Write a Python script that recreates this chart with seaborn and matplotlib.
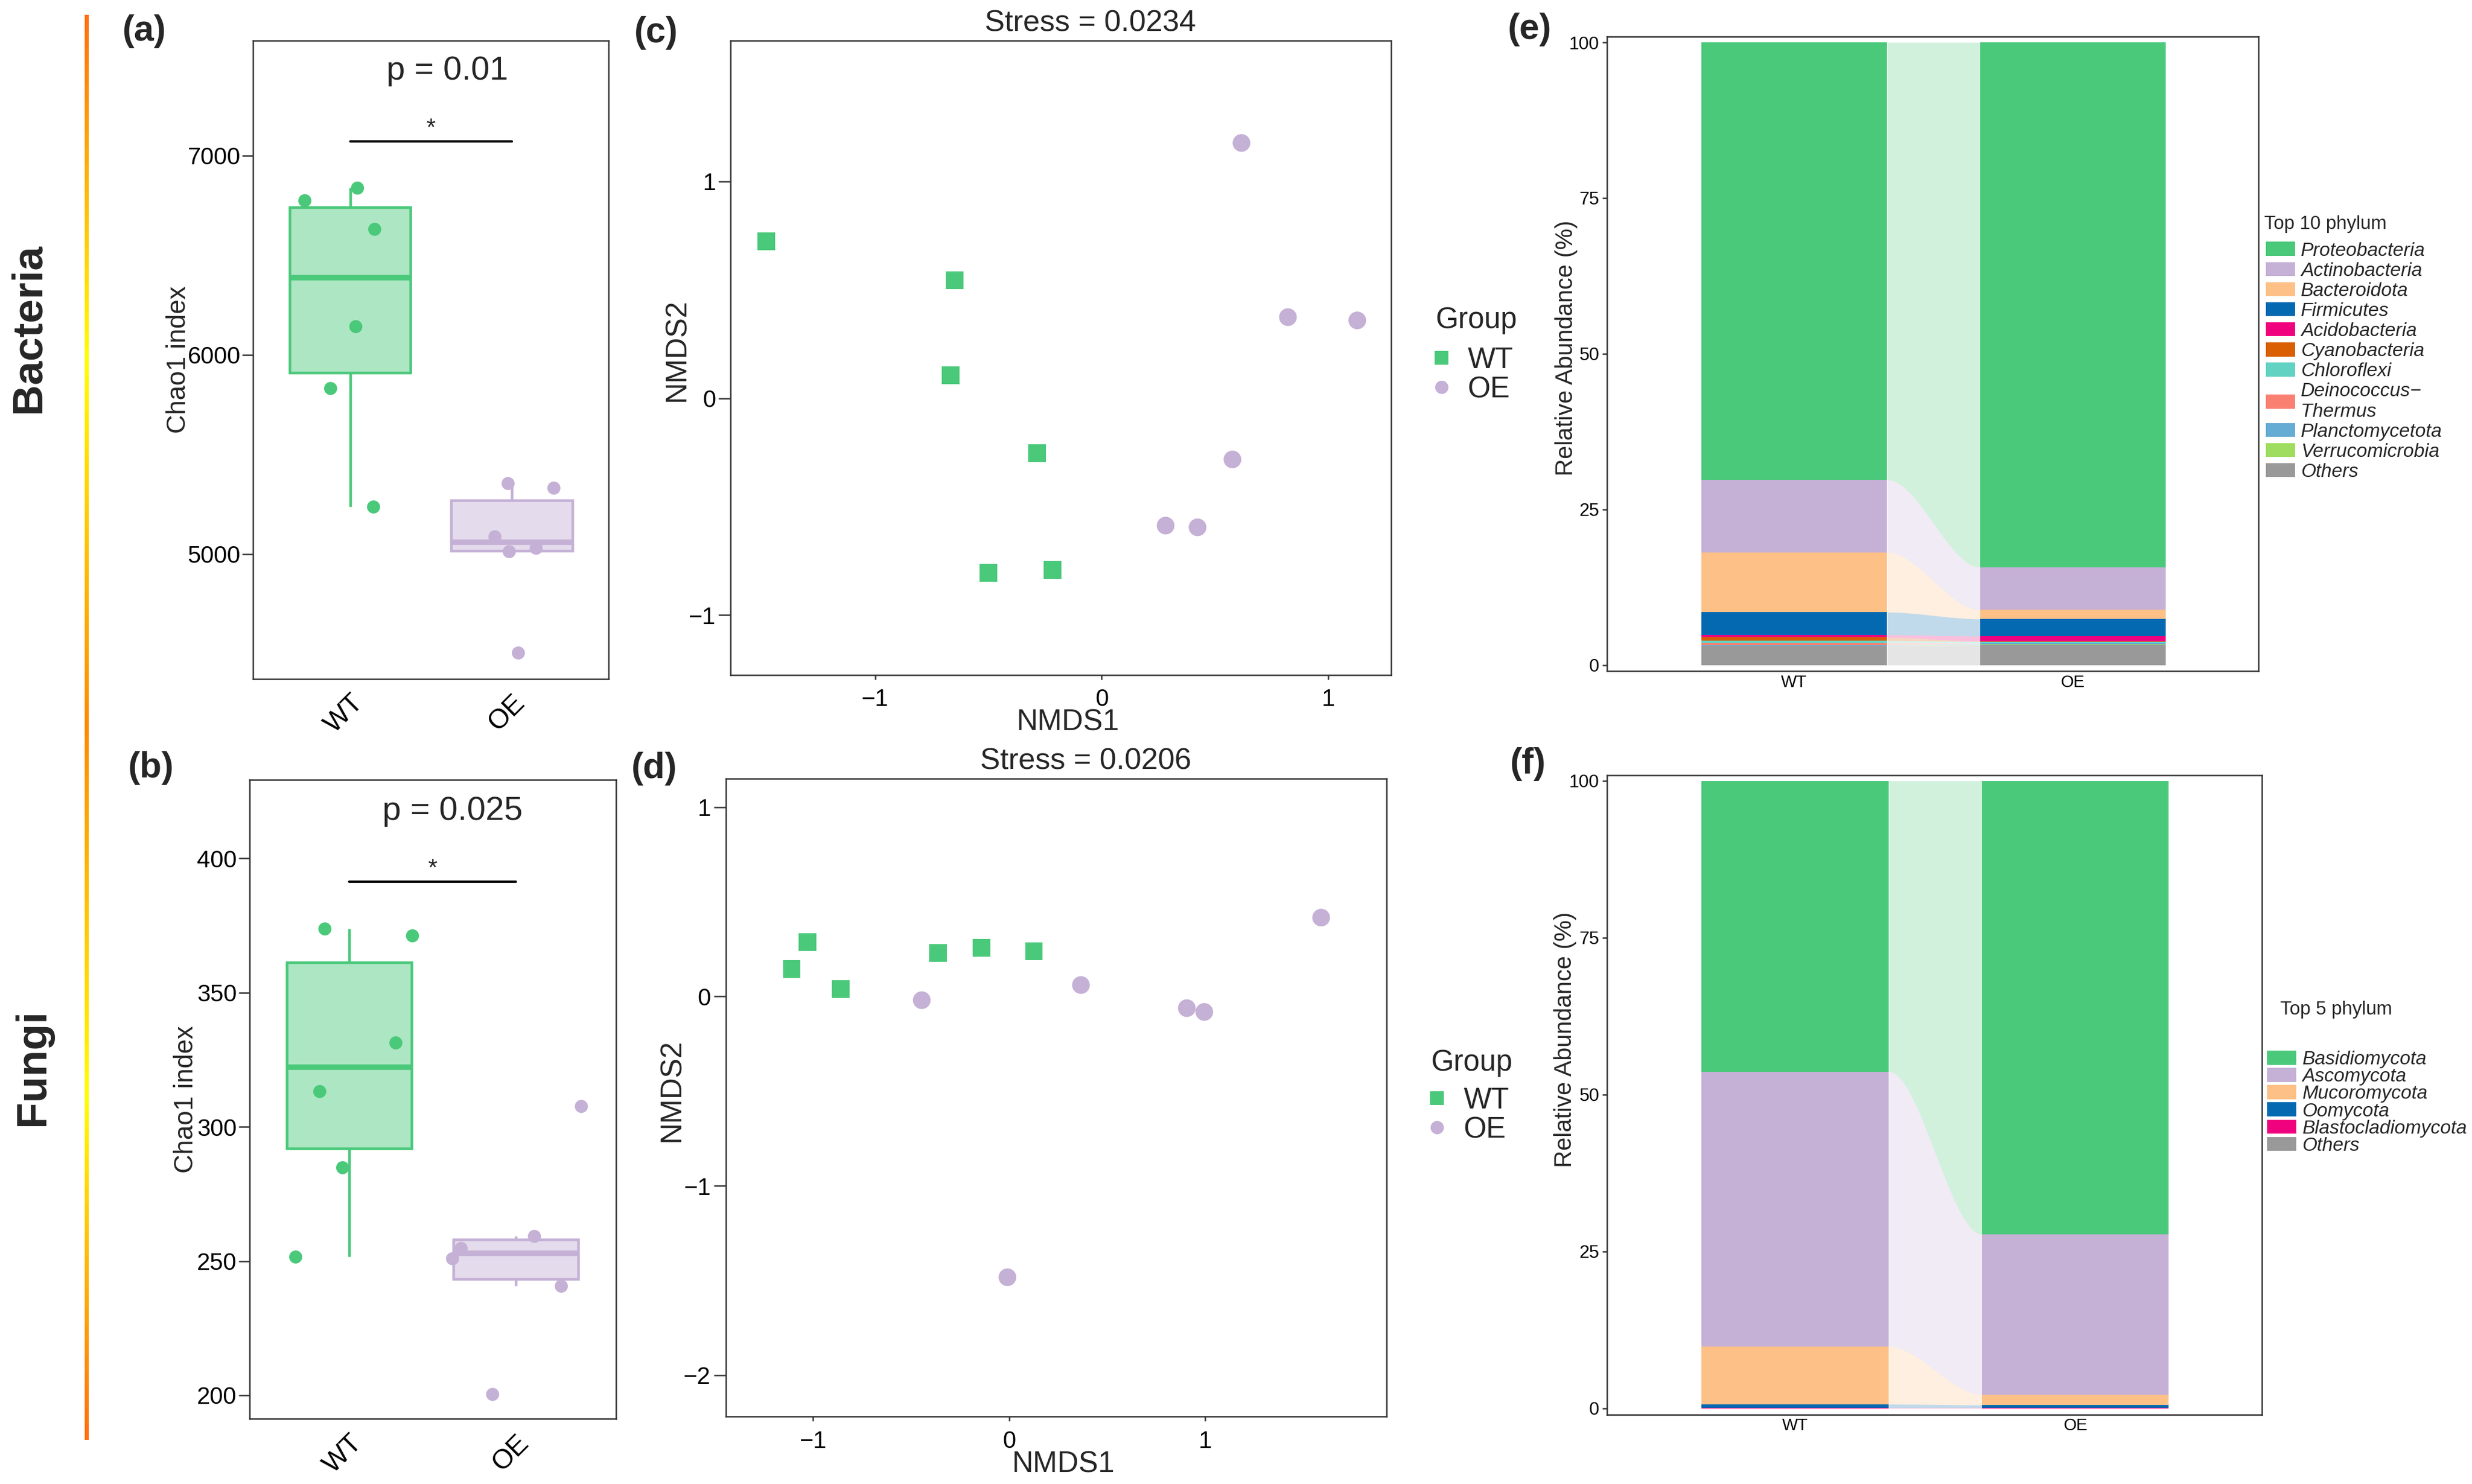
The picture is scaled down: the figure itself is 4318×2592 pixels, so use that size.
import numpy as np
import pandas as pd
import seaborn as sns
import matplotlib
matplotlib.use('Agg')
from matplotlib import pyplot as plt
from matplotlib.patches import Patch
from matplotlib.colors import LinearSegmentedColormap, to_rgba

#data
groups = ['WT', 'OE']

#(a) bacteria chao1
chao_bac_wt = [6776, 6838, 6633, 6142, 5832, 5238]
chao_bac_oe = [5355, 5331, 5088, 5012, 5029, 4504]
jit_bac_wt = [-0.28, 0.046, 0.152, 0.034, -0.124, 0.142]
jit_bac_oe = [-0.023, 0.26, -0.105, -0.018, 0.148, 0.041]

#(b) fungi chao1
chao_fun_wt = [373.8, 371.2, 331.3, 313.2, 284.9, 251.5]
chao_fun_oe = [307.6, 259.2, 254.8, 251.0, 240.8, 200.5]
jit_fun_wt = [-0.147, 0.379, 0.277, -0.181, -0.041, -0.323]
jit_fun_oe = [0.39, 0.109, -0.33, -0.383, 0.272, -0.142]

p_text = ['p = 0.01', 'p = 0.025']
bracket_y = [7072, 391.2]
star_y = [7103, 393.7]
p_y = [7426, 417.6]

#(c) bacteria NMDS
c_wt_x = [-1.482, -0.649, -0.668, -0.285, -0.500, -0.218]
c_wt_y = [0.724, 0.543, 0.107, -0.254, -0.805, -0.792]
c_oe_x = [0.617, 0.822, 1.128, 0.577, 0.282, 0.423]
c_oe_y = [1.177, 0.374, 0.359, -0.282, -0.587, -0.595]

#(d) fungi NMDS
d_wt_x = [-1.109, -1.029, -0.860, -0.363, -0.142, 0.126]
d_wt_y = [0.145, 0.286, 0.040, 0.229, 0.257, 0.239]
d_oe_x = [-0.446, 0.366, 0.906, 0.995, 1.591, -0.009]
d_oe_y = [-0.020, 0.060, -0.062, -0.082, 0.416, -1.483]

stress = ['Stress = 0.0234', 'Stress = 0.0206']

#(e) top 10 bacterial phyla, relative abundance (%)
bac_phyla = ['Proteobacteria', 'Actinobacteria', 'Bacteroidota', 'Firmicutes',
             'Acidobacteria', 'Cyanobacteria', 'Chloroflexi', 'Deinococcus\u2212\nThermus',
             'Planctomycetota', 'Verrucomicrobia', 'Others']
bac_wt = [70.25, 11.65, 9.62, 3.65, 0.40, 0.53, 0.33, 0.37, 0.08, 0.07, 3.05]
bac_oe = [84.31, 6.85, 1.44, 2.76, 0.82, 0.06, 0.20, 0.05, 0.15, 0.10, 3.26]
bac_colors = ['#4AC97A', '#C5B0D6', '#FDC086', '#0569B2', '#F0027F', '#D95F02',
              '#62D2C2', '#FA8072', '#64ACD3', '#9EDD5F', '#999999']

#(f) top 5 fungal phyla
fun_phyla = ['Basidiomycota', 'Ascomycota', 'Mucoromycota', 'Oomycota', 'Blastocladiomycota', 'Others']
fun_wt = [46.33, 43.82, 9.18, 0.55, 0.10, 0.02]
fun_oe = [72.30, 25.48, 1.67, 0.43, 0.10, 0.02]
fun_colors = ['#4AC97A', '#C5B0D6', '#FDC086', '#0569B2', '#F0027F', '#999999']

pal = {'WT': '#4AC97A', 'OE': '#C5B0D6'}

#%%
sns.set_theme(style='ticks')
plt.rcParams['font.family'] = ['Liberation Sans', 'DejaVu Sans']
plt.rcParams['axes.unicode_minus'] = True

fig = plt.figure(figsize=(4318/300, 2592/300), dpi=300)
fig.patch.set_facecolor('white')


def frame(ax):
    for sp in ax.spines.values():
        sp.set_visible(True)
        sp.set_color('#333333')
        sp.set_linewidth(0.6)


def box_panel(ax, wt, oe, jwt, joe, ylim, yticks, k, ylab_x):
    df = pd.DataFrame({'group': ['WT']*len(wt) + ['OE']*len(oe), 'value': wt + oe})
    for g in groups:
        sns.boxplot(data=df[df['group'] == g], x='group', y='value', order=groups,
                    color=pal[g], linecolor=pal[g], saturation=1, width=0.75,
                    linewidth=1.1, showfliers=False, showcaps=False,
                    medianprops={'linewidth': 2.3}, ax=ax)
    for p in ax.patches:
        p.set_facecolor(to_rgba(p.get_facecolor(), 0.45))
    for g, vals, jit in (('WT', wt, jwt), ('OE', oe, joe)):
        sns.scatterplot(x=groups.index(g) + np.array(jit), y=vals, color=pal[g],
                        s=30, linewidth=0, ax=ax, zorder=4, legend=False)
    ax.plot([0, 1], [bracket_y[k], bracket_y[k]], color='black', lw=1.0)
    ax.text(0.5, star_y[k], '*', ha='center', va='baseline', fontsize=10)
    ax.text(0.6 + 0.02*k, p_y[k], p_text[k], ha='center', va='center', fontsize=14)
    ax.set_xlim(-0.6, 1.6)
    ax.set_ylim(*ylim)
    ax.set_yticks(yticks)
    ax.set_xticks([0, 1])
    ax.set_xticklabels(groups)
    ax.set_xlabel('')
    ax.set_ylabel('Chao1 index', fontsize=11)
    ax.yaxis.set_label_coords(ylab_x, 0.5)
    ax.tick_params(axis='y', labelsize=10, length=4.5, width=0.6, pad=0.8, colors='#333333', labelcolor='black')
    ax.tick_params(axis='x', labelsize=11.5, length=0, pad=4.6, labelcolor='black')
    for lab in ax.get_xticklabels():
        lab.set(rotation=45, ha='right', va='top', rotation_mode='anchor')
    frame(ax)


def nmds_panel(ax, wx, wy, ox, oy, xlim, ylim, yticks, title, leg_y, title_y):
    df = pd.DataFrame({'NMDS1': wx + ox, 'NMDS2': wy + oy,
                       'Group': ['WT']*len(wx) + ['OE']*len(ox)})
    sns.scatterplot(data=df, x='NMDS1', y='NMDS2', hue='Group', style='Group',
                    hue_order=groups, style_order=groups, markers={'WT': 's', 'OE': 'o'},
                    palette=pal, s=55, linewidth=0, ax=ax)
    sns.move_legend(ax, 'center left', bbox_to_anchor=(1.0654, leg_y), frameon=False,
                    title=None, fontsize=12.3, borderpad=0, borderaxespad=0,
                    handlelength=0.5, handletextpad=0.65, labelspacing=0.05, markerscale=0.75)
    ax.text(1.067, title_y, 'Group', transform=ax.transAxes, ha='left', va='center', fontsize=12.3)
    ax.set_xlim(*xlim)
    ax.set_ylim(*ylim)
    ax.set_xticks([-1, 0, 1])
    ax.set_yticks(yticks)
    ax.set_xlabel('NMDS1', fontsize=12.3)
    ax.set_ylabel('NMDS2', fontsize=12.3)
    ax.xaxis.set_label_coords(0.511, -0.053)
    ax.yaxis.set_label_coords(-0.06, 0.512)
    ax.tick_params(axis='y', labelsize=10, length=5, width=0.6, pad=1.2, colors='#333333', labelcolor='black')
    ax.tick_params(axis='x', labelsize=10, length=2, width=0.6, pad=3.6, colors='#333333', labelcolor='black')
    ax.text(0.545, 1.027, title, transform=ax.transAxes, ha='center', va='center', fontsize=12.6)
    frame(ax)


def alluvial_panel(ax, phyla, wt, oe, colors, ylim, ylab_xy, leg_xy, title, title_xy, lspace):
    wt = np.array(wt)
    oe = np.array(oe)
    top_wt = np.cumsum(wt[::-1])[::-1]
    top_oe = np.cumsum(oe[::-1])[::-1]
    bot_wt = top_wt - wt
    bot_oe = top_oe - oe
    bw = 0.666
    pos = np.arange(len(groups))
    xs = np.linspace(bw/2, 1 - bw/2, 120)
    t = (xs - xs[0]) / (xs[-1] - xs[0])
    s = t*t*(3 - 2*t)
    for i, c in enumerate(colors):
        ax.bar(pos, [wt[i], oe[i]], bottom=[bot_wt[i], bot_oe[i]], width=bw,
               color=c, linewidth=0)
        lo = bot_wt[i] + (bot_oe[i] - bot_wt[i])*s
        hi = top_wt[i] + (top_oe[i] - top_wt[i])*s
        ax.fill_between(xs, lo, hi, color=c, alpha=0.25, linewidth=0)
    ax.set_xlim(-0.6705, 1.665)
    ax.set_ylim(*ylim)
    ax.set_xticks(pos)
    ax.set_xticklabels(groups)
    ax.set_yticks([0, 25, 50, 75, 100])
    ax.set_ylabel('Relative Abundance (%)', fontsize=10)
    ax.yaxis.set_label_coords(*ylab_xy)
    ax.tick_params(axis='y', labelsize=7.6, length=2, width=0.6, pad=1.2, colors='#333333', labelcolor='black')
    ax.tick_params(axis='x', labelsize=7, length=0, pad=1.3, labelcolor='black')
    frame(ax)
    handles = [Patch(facecolor=c, edgecolor='none') for c in colors]
    ax.legend(handles, phyla, loc='upper left', bbox_to_anchor=leg_xy,
              bbox_transform=fig.transFigure, frameon=False, borderpad=0, borderaxespad=0,
              prop={'style': 'italic', 'size': 8}, labelspacing=lspace,
              handlelength=1.53, handleheight=0.77, handletextpad=0.3)
    fig.text(title_xy[0], title_xy[1], title, ha='left', va='center', fontsize=7.9)


#%%
ax_a = fig.add_axes([0.1024, 0.5426, 0.1438, 0.4302])
box_panel(ax_a, chao_bac_wt, chao_bac_oe, jit_bac_wt, jit_bac_oe,
          (4373, 7579), [5000, 6000, 7000], 0, -0.174)

ax_b = fig.add_axes([0.1009, 0.0439, 0.1482, 0.4307])
box_panel(ax_b, chao_fun_wt, chao_fun_oe, jit_fun_wt, jit_fun_oe,
          (191.2, 429.3), [200, 250, 300, 350, 400], 1, -0.139)

ax_c = fig.add_axes([0.2956, 0.5452, 0.2671, 0.4276])
nmds_panel(ax_c, c_wt_x, c_wt_y, c_oe_x, c_oe_y, (-1.638, 1.277), (-1.2755, 1.65),
           [-1, 0, 1], stress[0], 0.4727, 0.5584)

ax_d = fig.add_axes([0.2936, 0.0454, 0.2673, 0.4298])
nmds_panel(ax_d, d_wt_x, d_wt_y, d_oe_x, d_oe_y, (-1.4455, 1.9245), (-2.219, 1.149),
           [-2, -1, 0, 1], stress[1], 0.4724, 0.555)

ax_e = fig.add_axes([0.6501, 0.5478, 0.2635, 0.4275])
alluvial_panel(ax_e, bac_phyla, bac_wt, bac_oe, bac_colors, (-0.97, 100.92),
               (-0.0448, 0.509), (0.9167, 0.837), 'Top 10 phylum', (0.9159, 0.8488), 0.12)

ax_f = fig.add_axes([0.6501, 0.0467, 0.2649, 0.4309])
alluvial_panel(ax_f, fun_phyla, fun_wt, fun_oe, fun_colors, (-1.0, 100.88),
               (-0.0463, 0.587), (0.9172, 0.2919), 'Top 5 phylum', (0.9224, 0.3196), -0.03)

#%%
#row labels and the coloured guide line
fig.text(0.0116, 0.779, 'Bacteria', rotation=90, ha='center', va='center', fontsize=18, fontweight='bold')
fig.text(0.0134, 0.281, 'Fungi', rotation=90, ha='center', va='center', fontsize=18, fontweight='bold')

ax_line = fig.add_axes([0.0343, 0.0297, 0.0014, 0.9603])
grad_cmap = LinearSegmentedColormap.from_list(
    'oy', [(0, '#FF7010'), (0.24, '#FFFF00'), (0.5, '#FF8A00'), (0.76, '#FFFF00'), (1, '#FF7010')])
ax_line.imshow(np.linspace(0, 1, 512)[:, None], aspect='auto', cmap=grad_cmap)
ax_line.axis('off')

for lab, x, y in (('(a)', 0.0496, 0.979), ('(b)', 0.0519, 0.4826), ('(c)', 0.2566, 0.978),
                  ('(d)', 0.2555, 0.482), ('(e)', 0.610, 0.980), ('(f)', 0.611, 0.4853)):
    fig.text(x, y, lab, ha='left', va='center', fontsize=15, fontweight='bold')

fig.savefig('out.png', dpi=300, facecolor='white')
